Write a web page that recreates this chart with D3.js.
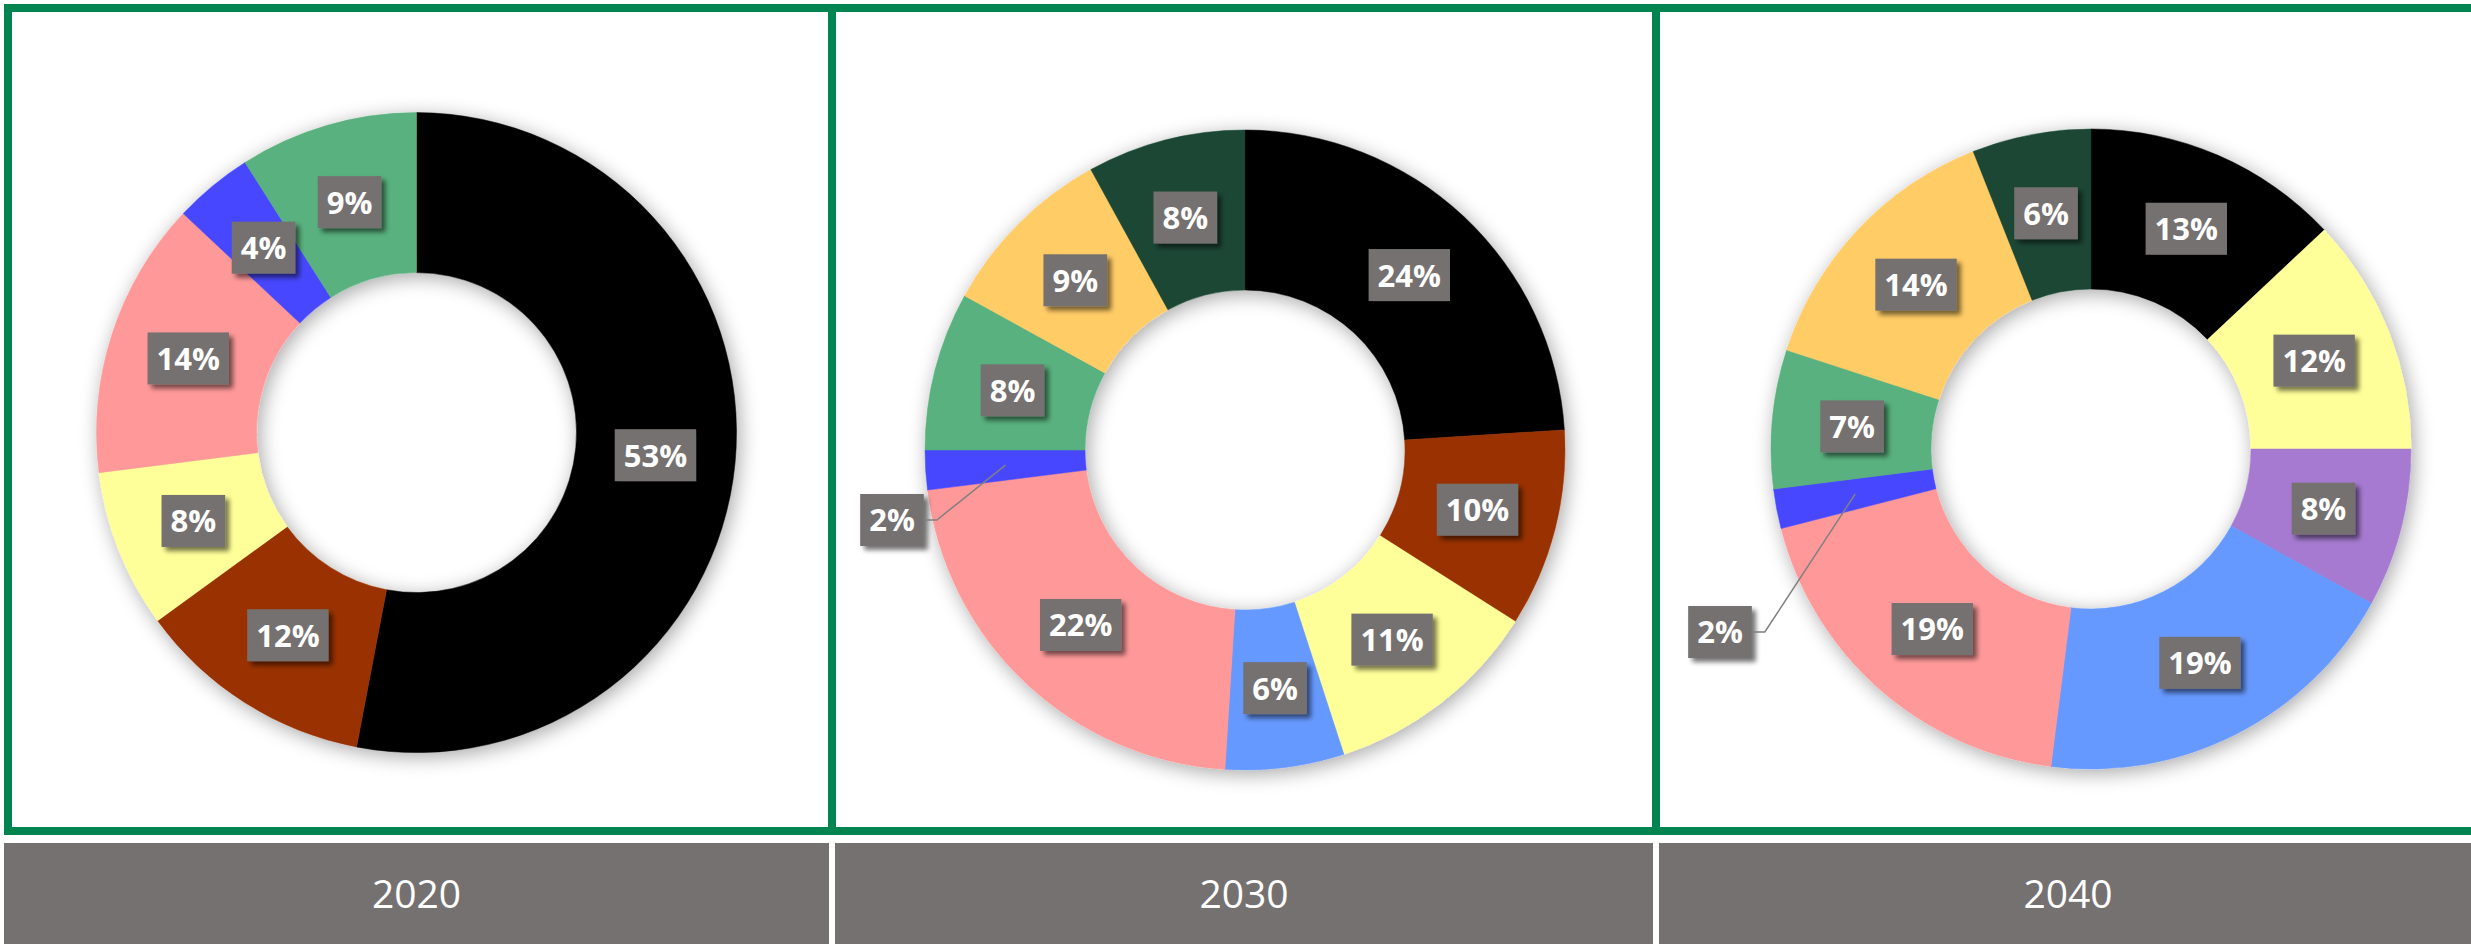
<!DOCTYPE html>
<html>
<head>
<meta charset="utf-8">
<script src="https://cdn.jsdelivr.net/npm/d3@7"></script>
<style>
  html, body { margin: 0; padding: 0; background: #ffffff; }
  svg { display: block; }
</style>
</head>
<body>
<div id="vis"></div>
<script>
// share of each category per year (clockwise from 12 o'clock)
var categories = ["cat1", "cat2", "cat3", "cat4", "cat5", "cat6", "cat7", "cat8", "cat9", "cat10"];
var colors = ["#000000", "#993300", "#FFFF99", "#A57AD0", "#6699FF", "#FF9999", "#4747FF", "#58B17E", "#FFCC66", "#1A4734"];
var years = ["2020", "2030", "2040"];
var share2020 = [53, 12, 8, 0, 0, 14, 4, 9, 0, 0];
var share2030 = [24, 10, 11, 0, 6, 22, 2, 8, 9, 8];
var share2040 = [13, 0, 12, 8, 19, 19, 2, 7, 14, 6];
var shares = [share2020, share2030, share2040];

var W = 2471, H = 944;
var green = "#008450", grey = "#767171";

// panel layout
var panelX = [4, 828, 1652];
var bandX = [4, 835, 1659];
var bandW = [825, 818, 818];
var centerX = [416.5, 1245, 2091];
var centerY = [432.6, 450, 449];
var rOuter = 320, rInner = 160;
// labels that sit outside the ring with a leader line (offset from donut centre)
var callouts = { "1-6": [-353, 70], "2-6": [-371, 183] };

var svg = d3.select("#vis").append("svg")
    .attr("width", W)
    .attr("height", H);

var defs = svg.append("defs");

var ringShadow = defs.append("filter").attr("id", "ringShadow")
    .attr("x", "-30%").attr("y", "-30%").attr("width", "160%").attr("height", "160%");
ringShadow.append("feGaussianBlur").attr("in", "SourceAlpha").attr("stdDeviation", 10).attr("result", "b");
ringShadow.append("feOffset").attr("in", "b").attr("dx", 3).attr("dy", 4).attr("result", "o");
ringShadow.append("feComponentTransfer").attr("in", "o").attr("result", "s")
    .append("feFuncA").attr("type", "linear").attr("slope", 0.35);
var m1 = ringShadow.append("feMerge");
m1.append("feMergeNode").attr("in", "s");
m1.append("feMergeNode").attr("in", "SourceGraphic");

var boxShadow = defs.append("filter").attr("id", "boxShadow")
    .attr("x", "-30%").attr("y", "-30%").attr("width", "160%").attr("height", "160%");
boxShadow.append("feGaussianBlur").attr("in", "SourceAlpha").attr("stdDeviation", 2.5).attr("result", "b");
boxShadow.append("feOffset").attr("in", "b").attr("dx", 4).attr("dy", 4).attr("result", "o");
boxShadow.append("feComponentTransfer").attr("in", "o").attr("result", "s")
    .append("feFuncA").attr("type", "linear").attr("slope", 0.55);
var m2 = boxShadow.append("feMerge");
m2.append("feMergeNode").attr("in", "s");
m2.append("feMergeNode").attr("in", "SourceGraphic");

var pie = d3.pie()
    .sort(null)
    .value(function (d) { return d.value; })
    .startAngle(0)
    .endAngle(2 * Math.PI);

var arc = d3.arc()
    .innerRadius(rInner)
    .outerRadius(rOuter);

years.forEach(function (year, p) {
    // grey year band
    svg.append("rect")
        .attr("x", bandX[p]).attr("y", 843)
        .attr("width", bandW[p]).attr("height", 101)
        .attr("fill", grey);
    svg.append("text")
        .attr("x", bandX[p] + bandW[p] / 2)
        .attr("y", 908)
        .attr("text-anchor", "middle")
        .attr("fill", "#ffffff")
        .style("font-family", "'Open Sans', sans-serif")
        .style("font-weight", "400")
        .style("font-size", "39px")
        .text(year);

    var rows = categories.map(function (c, i) {
        return { key: c, idx: i, value: shares[p][i], color: colors[i] };
    });
    var arcs = pie(rows);

    var g = svg.append("g")
        .attr("transform", "translate(" + centerX[p] + "," + centerY[p] + ")");

    g.append("g")
        .attr("filter", "url(#ringShadow)")
        .selectAll("path")
        .data(arcs.filter(function (d) { return d.data.value > 0; }))
        .enter()
        .append("path")
        .attr("d", arc)
        .attr("fill", function (d) { return d.data.color; })
        .attr("stroke", function (d) { return d.data.color; })
        .attr("stroke-width", 0.5);

    var labels = g.selectAll("g.lab")
        .data(arcs.filter(function (d) { return d.data.value > 0; }))
        .enter()
        .append("g")
        .attr("class", "lab");

    labels.each(function (d) {
        var sel = d3.select(this);
        var c = arc.centroid(d);
        var off = callouts[p + "-" + d.data.idx];
        var pos = off ? off : c;
        var txt = d.data.value + "%";

        var t = sel.append("text")
            .attr("x", pos[0])
            .attr("y", pos[1])
            .attr("dy", "0.37em")
            .attr("text-anchor", "middle")
            .attr("fill", "#ffffff")
            .style("font-family", "'Open Sans', sans-serif")
            .style("font-weight", "700")
            .style("font-size", "31px")
            .text(txt);
        var bw = t.node().getComputedTextLength() + 18, bh = 52;

        if (off) {
            var ex = pos[0] + bw / 2;
            sel.append("polyline")
                .attr("points", [[ex, pos[1]], [ex + 13, pos[1]], c].map(function (q) { return q.join(","); }).join(" "))
                .attr("fill", "none")
                .attr("stroke", "#808080")
                .attr("stroke-width", 1.5);
        }

        sel.insert("rect", "text")
            .attr("x", pos[0] - bw / 2)
            .attr("y", pos[1] - bh / 2)
            .attr("width", bw)
            .attr("height", bh)
            .attr("fill", grey)
            .attr("filter", "url(#boxShadow)");
    });

    // green panel frame
    svg.append("rect")
        .attr("x", panelX[p] + 4).attr("y", 8)
        .attr("width", 824).attr("height", 823)
        .attr("fill", "none")
        .attr("stroke", green)
        .attr("stroke-width", 8);
});
</script>
</body>
</html>
